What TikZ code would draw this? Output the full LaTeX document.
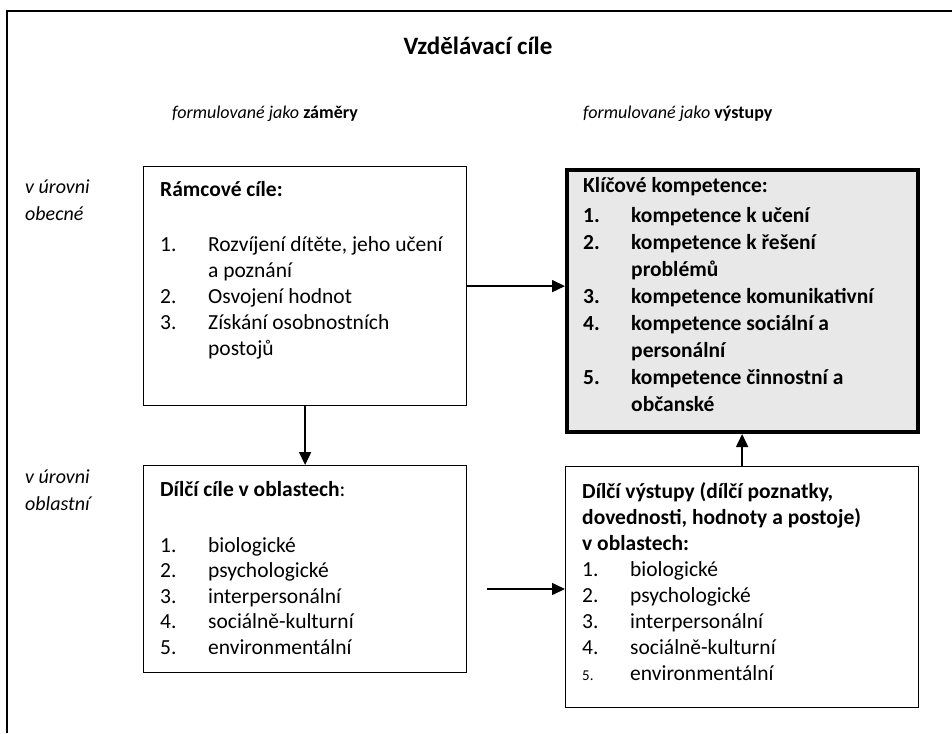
\documentclass[tikz,border=0pt]{standalone}
\usepackage{fontspec}
\setmainfont{Carlito}
\usetikzlibrary{arrows.meta,positioning}

\definecolor{keygray}{RGB}{232,232,232}
\newcommand{\itm}[1]{\makebox[48pt][l]{#1}}
\newcommand{\cont}{\hspace*{48pt}}

\tikzset{
	goal/.style={draw, line width=1.2pt, anchor=north west, inner sep=0pt},
	key/.style={draw, line width=4pt, fill=keygray, anchor=north west, inner sep=0pt},
	body/.style={anchor=north west, align=left, inner sep=0pt, font=\fontsize{21.5}{26}\selectfont, execute at begin node=\strut},
	level/.style={anchor=north west, align=left, inner sep=0pt, font=\fontsize{20}{27}\selectfont\itshape, execute at begin node=\strut},
	head/.style={anchor=base west, inner sep=0pt, font=\fontsize{18}{22}\selectfont},
	link/.style={line width=1.5pt, -{Triangle[length=13pt,width=12pt]}},
}

\begin{document}
\begin{tikzpicture}[x=1pt, y=-1pt]
\useasboundingbox (0,0) rectangle (952,733);

% frame
\draw[line width=1.2pt] (7,733) -- (7,11) -- (952,11);

\node[anchor=base, inner sep=0pt, font=\fontsize{25}{30}\selectfont\bfseries] (title) at (478,55) {Vzdělávací cíle};
\node[head] (zam) at (172,118) {\textit{formulované jako} \textbf{záměry}};
\node[head] (vys) at (583,118) {\textit{formulované jako} \textbf{výstupy}};

\node[level] (obec) at (25,180) {v úrovni\\obecné};
\node[level] (obl) at (25,470) {v úrovni\\oblastní};

% boxes
\node[goal, minimum width=323pt, minimum height=239pt] (rc) at (143,166) {};
\node[goal, minimum width=323pt, minimum height=207pt] (dc) at (143,465) {};
\node[key, minimum width=351pt, minimum height=262pt] (kk) at (565,168) {};
\node[goal, minimum width=353pt, minimum height=241pt] (dv) at (565,466) {};

\node[body] (rct) at (160,181) {\textbf{Rámcové cíle:}\\[29pt]
	\itm{1.}Rozvíjení dítěte, jeho učení\\
	\cont a poznání\\
	\itm{2.}Osvojení hodnot\\
	\itm{3.}Získání osobnostních\\
	\cont postojů};

\node[body, font=\fontsize{21.5}{27}\selectfont\bfseries] (kkt) at (583,177) {Klíčové kompetence:\\[3pt]
	\itm{1.}kompetence k učení\\
	\itm{2.}kompetence k řešení\\
	\cont problémů\\
	\itm{3.}kompetence komunikativní\\
	\itm{4.}kompetence sociální a\\
	\cont personální\\
	\itm{5.}kompetence činnostní a\\
	\cont občanské};

\node[body, font=\fontsize{21.5}{25.5}\selectfont] (dct) at (160,481) {\textbf{Dílčí cíle v oblastech}:\\[30.5pt]
	\itm{1.}biologické\\
	\itm{2.}psychologické\\
	\itm{3.}interpersonální\\
	\itm{4.}sociálně-kulturní\\
	\itm{5.}environmentální};

\node[body] (dvt) at (582,482) {\textbf{Dílčí výstupy (dílčí poznatky,}\\
	\textbf{dovednosti, hodnoty a postoje)}\\
	\textbf{v oblastech:}\\
	\itm{1.}biologické\\
	\itm{2.}psychologické\\
	\itm{3.}interpersonální\\
	\itm{4.}sociálně-kulturní\\
	\itm{\fontsize{15}{26}\selectfont 5.}environmentální};

% arrows
\coordinate (in) at (487,589);
\draw[link] (rc.south) -- (dc.north);
\draw[link] (rc.east) -- (rc.east -| kk.west);
\draw[link] (dv.north) -- (dv.north |- kk.south);
\draw[link] (in) -- (in -| dv.west);

\end{tikzpicture}
\end{document}
